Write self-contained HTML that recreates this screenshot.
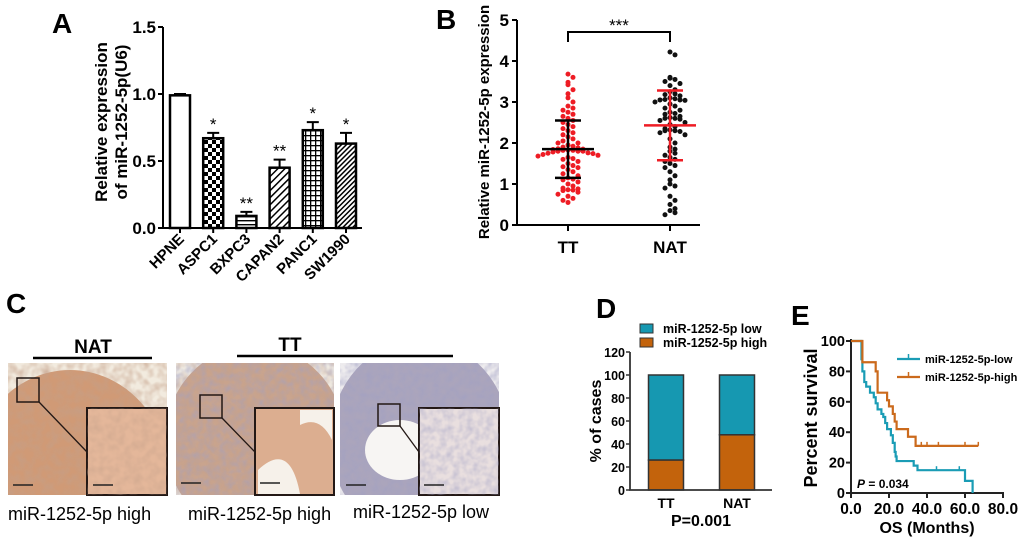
<!DOCTYPE html>
<html><head><meta charset="utf-8"><style>
html,body{margin:0;background:#fff;width:1020px;height:539px;overflow:hidden;}
svg{display:block;font-family:"Liberation Sans",Arial,sans-serif;}
.b{font-weight:bold;}
</style></head><body>
<svg id="fig" width="1020" height="539" viewBox="0 0 1020 539">
<defs>
<pattern id="pChk" width="8" height="8" patternUnits="userSpaceOnUse"><rect width="8" height="8" fill="#fff"/><rect width="4" height="4" fill="#000"/><rect x="4" y="4" width="4" height="4" fill="#000"/></pattern>
<pattern id="pHor" width="4" height="4" patternUnits="userSpaceOnUse"><rect width="4" height="4" fill="#fff"/><rect width="4" height="1.4" fill="#000"/></pattern>
<pattern id="pDiag" width="5" height="5" patternUnits="userSpaceOnUse" patternTransform="rotate(45)"><rect width="5" height="5" fill="#fff"/><rect width="1.5" height="5" fill="#000"/></pattern>
<pattern id="pGrid" width="5" height="5" patternUnits="userSpaceOnUse"><rect width="5" height="5" fill="#fff"/><rect width="5" height="1.3" fill="#000"/><rect width="1.3" height="5" fill="#000"/></pattern>
<pattern id="pDiag2" width="3.5" height="3.5" patternUnits="userSpaceOnUse" patternTransform="rotate(45)"><rect width="3.5" height="3.5" fill="#fff"/><rect width="1.5" height="3.5" fill="#000"/></pattern>
<filter id="tex" x="0" y="0" width="1" height="1"><feTurbulence type="fractalNoise" baseFrequency="0.12" numOctaves="2" seed="3"/><feColorMatrix type="matrix" values="0 0 0 0 0.55  0 0 0 0 0.35  0 0 0 0 0.25  0 0 0 1.6 -0.5"/><feComposite in2="SourceGraphic" operator="in"/></filter>
<filter id="texB" x="0" y="0" width="1" height="1"><feTurbulence type="fractalNoise" baseFrequency="0.15" numOctaves="2" seed="7"/><feColorMatrix type="matrix" values="0 0 0 0 0.35  0 0 0 0 0.35  0 0 0 0 0.55  0 0 0 1.6 -0.5"/><feComposite in2="SourceGraphic" operator="in"/></filter>
<clipPath id="c1"><rect x="8" y="363" width="159" height="132"/></clipPath>
<clipPath id="c2"><rect x="176" y="363" width="158" height="132"/></clipPath>
<clipPath id="c3"><rect x="340" y="363" width="159" height="132"/></clipPath>
</defs>

<text x="52" y="33" font-size="28" class="b">A</text>
<text x="436" y="29" font-size="28" class="b">B</text>
<text x="6" y="313" font-size="28" class="b">C</text>
<text x="596" y="318" font-size="28" class="b">D</text>
<text x="791" y="325" font-size="28" class="b">E</text>

<g id="panelA"></g>
<g id="panelB"></g>
<g id="panelC">
  <text x="93" y="353" font-size="19" class="b" text-anchor="middle">NAT</text>
  <line x1="33" y1="358" x2="152" y2="358" stroke="#000" stroke-width="2.5"/>
  <text x="290" y="351" font-size="19" class="b" text-anchor="middle">TT</text>
  <line x1="237" y1="356" x2="453" y2="356" stroke="#000" stroke-width="2.5"/>

  <g>
    <g clip-path="url(#c1)">
    <rect x="8" y="363" width="159" height="132" fill="#f2ebdf"/>
    <ellipse cx="70" cy="480" rx="100" ry="110" fill="#d09a76"/>
    <rect x="8" y="363" width="159" height="132" fill="#fff" filter="url(#tex)" opacity="0.7"/>
    </g>
    <rect x="87" y="408" width="80" height="87" fill="#e4b79a" stroke="#231815" stroke-width="2"/>
    <rect x="87" y="408" width="80" height="87" fill="#fff" filter="url(#tex)" opacity="0.5"/>
    <rect x="17" y="378" width="22" height="24" fill="none" stroke="#231815" stroke-width="1.5"/>
    <line x1="39" y1="402" x2="87" y2="452" stroke="#231815" stroke-width="1.3"/>
    <line x1="13" y1="485" x2="33" y2="485" stroke="#222" stroke-width="1.5"/>
    <line x1="93" y1="485" x2="113" y2="485" stroke="#222" stroke-width="1.5"/>
  </g>
  <g>
    <g clip-path="url(#c2)">
    <rect x="176" y="363" width="158" height="132" fill="#efeae2"/>
    <ellipse cx="255" cy="440" rx="90" ry="95" fill="#c9a48e"/>
    <rect x="176" y="363" width="158" height="132" fill="#fff" filter="url(#texB)" opacity="0.6"/>
    <rect x="176" y="363" width="158" height="132" fill="#fff" filter="url(#tex)" opacity="0.5"/>
    </g>
    <rect x="255" y="408" width="79" height="87" fill="#dcae90" stroke="#231815" stroke-width="2"/>
    <path d="M258 470 Q290 440 300 494 L258 494Z M300 425 Q320 415 332 440 L332 410 L300 410Z" fill="#f6f1ea"/>
    <rect x="200" y="395" width="22" height="23" fill="none" stroke="#231815" stroke-width="1.5"/>
    <line x1="222" y1="418" x2="255" y2="452" stroke="#231815" stroke-width="1.3"/>
    <line x1="181" y1="483" x2="201" y2="483" stroke="#222" stroke-width="1.5"/>
    <line x1="260" y1="483" x2="280" y2="483" stroke="#222" stroke-width="1.5"/>
  </g>
  <g>
    <g clip-path="url(#c3)">
    <rect x="340" y="363" width="159" height="132" fill="#eeecee"/>
    <ellipse cx="420" cy="440" rx="90" ry="100" fill="#aba5bc"/>
    <rect x="340" y="363" width="159" height="132" fill="#fff" filter="url(#texB)" opacity="0.6"/>
    <ellipse cx="400" cy="450" rx="35" ry="30" fill="#f7f5f3"/>
    </g>
    <rect x="419" y="408" width="80" height="87" fill="#e9dfdf" stroke="#231815" stroke-width="2"/>
    <rect x="419" y="408" width="80" height="87" fill="#fff" filter="url(#texB)" opacity="0.5"/>
    <rect x="378" y="404" width="22" height="22" fill="none" stroke="#231815" stroke-width="1.5"/>
    <line x1="400" y1="426" x2="419" y2="452" stroke="#231815" stroke-width="1.3"/>
    <line x1="346" y1="485" x2="366" y2="485" stroke="#222" stroke-width="1.5"/>
    <line x1="424" y1="485" x2="444" y2="485" stroke="#222" stroke-width="1.5"/>
  </g>
  <text x="8" y="520" font-size="18">miR-1252-5p high</text>
  <text x="188" y="520" font-size="18">miR-1252-5p high</text>
  <text x="353" y="518" font-size="18">miR-1252-5p low</text>
</g>
<g id="panelD"></g>
<g id="panelE"></g>
</svg>
<script>
// ---------- Panel A data ----------
const aCats=["HPNE","ASPC1","BXPC3","CAPAN2","PANC1","SW1990"];
const aVals=[0.99,0.67,0.09,0.45,0.73,0.63];
const aErr=[0.01,0.04,0.03,0.06,0.06,0.08];
const aStars=["","*","**","**","*","*"];
const aTicks=[0,0.5,1.0,1.5];
const aFills=["#fff","url(#pChk)","url(#pHor)","url(#pDiag)","url(#pGrid)","url(#pDiag2)"];
// ---------- Panel B data ----------
const bCats=["TT","NAT"];
const bTT=[3.68,3.6,3.48,3.42,3.3,3.2,3.1,3.0,2.9,2.85,2.8,2.75,2.7,2.65,2.6,2.55,2.5,2.45,2.4,2.35,2.3,2.25,2.2,2.15,2.1,2.05,2.0,2.0,1.95,1.92,1.9,1.88,1.86,1.85,1.84,1.83,1.82,1.82,1.8,1.8,1.8,1.78,1.76,1.75,1.74,1.72,1.7,1.68,1.65,1.62,1.6,1.55,1.5,1.45,1.42,1.4,1.35,1.3,1.25,1.2,1.15,1.12,1.1,1.05,1.0,0.95,0.9,0.88,0.86,0.85,0.84,0.8,0.75,0.7,0.65,0.6,0.55];
const bNAT=[4.22,4.15,3.6,3.58,3.55,3.5,3.45,3.4,3.3,3.25,3.2,3.18,3.15,3.1,3.08,3.06,3.05,3.05,3.04,3.0,2.95,2.9,2.85,2.8,2.75,2.72,2.7,2.65,2.62,2.6,2.6,2.58,2.55,2.5,2.45,2.4,2.35,2.32,2.3,2.3,2.28,2.25,2.2,2.1,2.0,1.9,1.85,1.8,1.75,1.7,1.65,1.6,1.55,1.5,1.45,1.4,1.3,1.2,1.1,1.0,0.95,0.9,0.7,0.6,0.5,0.4,0.35,0.3,0.25];
const bMean=[1.85,2.43];
const bSdHi=[2.55,3.28];
const bSdLo=[1.15,1.58];
const bTicks=[0,1,2,3,4,5];
// ---------- Panel D data ----------
const dCats=["TT","NAT"];
const dHigh=[26,48];
const dLow=[74,52];
const dTicks=[0,20,40,60,80,100,120];
// ---------- Panel E data ----------
const eLowT=[0,5.5,6,7,8,10,12,13,14,16,17,18,19,21,22,23,23.5,24,33,35,60,64];
const eLowS=[100,88,80,73,70,66,63,59,55,52,50,46,42,38,33,27,24,21,18,15,8,0];
const eLowCens=[45,57];
const eHighT=[0,6,13,14,19,20,22,23,24,30,34,67];
const eHighS=[100,86,80,66,61,57,52,47,42,37,31,31];
const eHighCens=[30,37,40,46,60,67];
const eYTicks=[0,20,40,60,80,100];
const eXTicks=[0,20,40,60,80];

const NS="http://www.w3.org/2000/svg";
function mk(parent,tag,attrs,txt){const e=document.createElementNS(NS,tag);for(const k in attrs)e.setAttribute(k,attrs[k]);if(txt!==undefined)e.textContent=txt;parent.appendChild(e);return e;}

// ===== Panel A =====
(function(){
const g=document.getElementById('panelA');
const x0=163,yTop=27,yBot=228,ymax=1.5;
const y=v=>yBot-(v/ymax)*(yBot-yTop);
const xc=i=>180+i*33.2;
let ax=mk(g,'path',{d:`M${x0} ${yTop}V${yBot}H${xc(5)+16}`,fill:'none',stroke:'#000','stroke-width':2});


aTicks.forEach(t=>{
 mk(g,'line',{x1:x0-5,x2:x0,y1:y(t),y2:y(t),stroke:'#000','stroke-width':2});
 const tl=mk(g,'text',{x:x0-7,y:y(t)+6,'font-size':17,'font-weight':'bold','text-anchor':'end'},t.toFixed(1));
 
 
});
aCats.forEach((c,i)=>{
 const cx=xc(i),w=20;
 const eb=mk(g,'path',{d:`M${cx} ${y(aVals[i])}V${y(aVals[i]+aErr[i])}M${cx-6} ${y(aVals[i]+aErr[i])}H${cx+6}`,stroke:'#000','stroke-width':2,fill:'none'});
 
 
 const r=mk(g,'rect',{x:cx-w/2,y:y(aVals[i]),width:w,height:yBot-y(aVals[i]),fill:aFills[i],stroke:'#000','stroke-width':2.5});
 
 
 mk(g,'line',{x1:cx,x2:cx,y1:yBot,y2:yBot+5,stroke:'#000','stroke-width':2});
 if(aStars[i]){const s=mk(g,'text',{x:cx,y:y(aVals[i]+aErr[i])-3,'font-size':17,'text-anchor':'middle'},aStars[i]);
  
  }
 const l=mk(g,'text',{x:0,y:0,'font-size':15,'font-weight':'bold','text-anchor':'end',transform:`translate(${cx+5},${yBot+12}) rotate(-45)`},c);
 
 
});
const yl=mk(g,'text',{x:0,y:0,'font-size':17,'font-weight':'bold','text-anchor':'middle',transform:'translate(107,122) rotate(-90)'},'Relative expression');


const yl2=mk(g,'text',{x:0,y:0,'font-size':17,'font-weight':'bold','text-anchor':'middle',transform:'translate(127,122) rotate(-90)'},'of miR-1252-5p(U6)');


})();

// ===== Panel B =====
(function(){
const g=document.getElementById('panelB');
const x0=517,yTop=20,yBot=225,ymax=5;
const y=v=>yBot-(v/ymax)*(yBot-yTop);
const xc=i=>568+i*102;
const ax=mk(g,'path',{d:`M${x0} ${yTop}V${yBot}H700`,fill:'none',stroke:'#000','stroke-width':2});


bTicks.forEach(t=>{
 mk(g,'line',{x1:x0-5,x2:x0,y1:y(t),y2:y(t),stroke:'#000','stroke-width':2});
 const tl=mk(g,'text',{x:x0-8,y:y(t)+6,'font-size':17,'font-weight':'bold','text-anchor':'end'},t);
 
 
});
[bTT,bNAT].forEach((arr,i)=>{
 const cx=xc(i);
 mk(g,'line',{x1:cx,x2:cx,y1:yBot,y2:yBot+6,stroke:'#000','stroke-width':2});
 const tl=mk(g,'text',{x:cx,y:yBot+28,'font-size':17,'font-weight':'bold','text-anchor':'middle'},bCats[i]);
 
 
 const bins={};
 arr.forEach(v=>{
  const b=Math.round(v/0.16);bins[b]=(bins[b]||0);const k=bins[b]++;
  const off=(k%2?1:-1)*Math.ceil(k/2)*5;
  const d=mk(g,'circle',{cx:cx+off,cy:y(v),r:2.5,fill:i===0?'#ee1c24':'#111'});
  
  
 });
});
[0,1].forEach(i=>{
 const cx=xc(i),col=i===0?'#000':'#ee1c24';
 const s=mk(g,'path',{d:`M${cx} ${y(bSdLo[i])}V${y(bSdHi[i])}M${cx-13} ${y(bSdLo[i])}H${cx+13}M${cx-13} ${y(bSdHi[i])}H${cx+13}`,stroke:col,'stroke-width':2.5,fill:'none'});
 
 
 const m=mk(g,'line',{x1:cx-26,x2:cx+26,y1:y(bMean[i]),y2:y(bMean[i]),stroke:col,'stroke-width':2.5});
 
 
});
const br=mk(g,'path',{d:`M${xc(0)} 42V32H${xc(1)}V42`,fill:'none',stroke:'#000','stroke-width':2});


const st=mk(g,'text',{x:(xc(0)+xc(1))/2,y:31,'font-size':17,'text-anchor':'middle'},'***');


const yl=mk(g,'text',{x:0,y:0,'font-size':15,'font-weight':'bold','text-anchor':'middle',transform:'translate(489,122) rotate(-90)'},'Relative miR-1252-5p expression');


})();

// ===== Panel D =====
(function(){
const g=document.getElementById('panelD');
const x0=630,yTop=352,yBot=490,ymax=120;
const y=v=>yBot-(v/ymax)*(yBot-yTop);
const xc=i=>666+i*71;
dCats.forEach((c,i)=>{
 const cx=xc(i),w=35;
 const lo=mk(g,'rect',{x:cx-w/2,y:y(dHigh[i]+dLow[i]),width:w,height:y(dHigh[i])-y(dHigh[i]+dLow[i]),fill:'#1698b1',stroke:'#333','stroke-width':1.5});
 
 
 const hi=mk(g,'rect',{x:cx-w/2,y:y(dHigh[i]),width:w,height:yBot-y(dHigh[i]),fill:'#c3630c',stroke:'#333','stroke-width':1.5});
 
 
 const tl=mk(g,'text',{x:cx,y:yBot+18,'font-size':14,'font-weight':'bold','text-anchor':'middle'},c);
 
 
});
const ax=mk(g,'path',{d:`M${x0} ${yTop}V${yBot}H772`,fill:'none',stroke:'#333','stroke-width':1.8});


dTicks.forEach(t=>{
 mk(g,'line',{x1:x0-4,x2:x0,y1:y(t),y2:y(t),stroke:'#333','stroke-width':1.5});
 const tl=mk(g,'text',{x:x0-5,y:y(t)+5,'font-size':12.5,'font-weight':'bold','text-anchor':'end'},t);
 
 
});
const yl=mk(g,'text',{x:0,y:0,'font-size':16,'font-weight':'bold','text-anchor':'middle',transform:'translate(601,421) rotate(-90)'},'% of cases');


[['#1698b1','miR-1252-5p low',324],['#c3630c','miR-1252-5p high',338]].forEach(([col,t,yy])=>{
 const sw=mk(g,'rect',{x:640,y:yy,width:13,height:9,fill:col,stroke:'#333','stroke-width':1});
 
 
 const lt=mk(g,'text',{x:663,y:yy+9,'font-size':12.5,'font-weight':'bold'},t);
 
 
});
const p=mk(g,'text',{x:701,y:526,'font-size':16,'font-weight':'bold','text-anchor':'middle'},'P=0.001');


})();

// ===== Panel E =====
(function(){
const g=document.getElementById('panelE');
const x0=851,yTop=341,yBot=493;
const x=t=>x0+t*(1003-851)/80;
const y=v=>yBot-v*(yBot-yTop)/100;
const ax=mk(g,'path',{d:`M${x0} ${yTop-2}V${yBot}H1004`,fill:'none',stroke:'#222','stroke-width':2});


eYTicks.forEach(t=>{
 mk(g,'line',{x1:x0-5,x2:x0,y1:y(t),y2:y(t),stroke:'#222','stroke-width':2});
 const tl=mk(g,'text',{x:x0-6,y:y(t)+5,'font-size':14.5,'font-weight':'bold','text-anchor':'end'},t);
 
 
});
eXTicks.forEach(t=>{
 mk(g,'line',{x1:x(t),x2:x(t),y1:yBot,y2:yBot+5,stroke:'#222','stroke-width':2});
 const tl=mk(g,'text',{x:x(t),y:yBot+21,'font-size':15.5,'font-weight':'bold','text-anchor':'middle'},t.toFixed(1));
 
 
});
function step(T,S){let d=`M${x(T[0])} ${y(S[0])}`;for(let i=1;i<T.length;i++){d+=`H${x(T[i])}V${y(S[i])}`;}return d;}
function survAt(T,S,t){let s=S[0];for(let i=0;i<T.length;i++){if(T[i]<=t)s=S[i];}return s;}
[[eLowT,eLowS,eLowCens,'#1a9cb5','e-line-low'],[eHighT,eHighS,eHighCens,'#cb6a1c','e-line-high']].forEach(([T,S,C,col,nm])=>{
 const l=mk(g,'path',{d:step(T,S),fill:'none',stroke:col,'stroke-width':2.2});
 
 
 C.forEach(t=>{const s=survAt(T,S,t);
  const c=mk(g,'line',{x1:x(t),x2:x(t),y1:y(s)-4,y2:y(s),stroke:col,'stroke-width':1.5});
  
  });
});
[['#1a9cb5','miR-1252-5p-low',359],['#cb6a1c','miR-1252-5p-high',377]].forEach(([col,t,yy])=>{
 mk(g,'line',{x1:897,x2:920,y1:yy,y2:yy,stroke:col,'stroke-width':2.2});
 mk(g,'line',{x1:908.5,x2:908.5,y1:yy-5,y2:yy,stroke:col,'stroke-width':1.5});
 const lt=mk(g,'text',{x:925,y:yy+4,'font-size':11,'font-weight':'bold'},t);
 
 
});
const p=mk(g,'text',{x:857,y:488,'font-size':12,'font-weight':'bold'},'');
mk(p,'tspan',{'font-style':'italic'},'P');
mk(p,'tspan',{},' = 0.034');


const yl=mk(g,'text',{x:0,y:0,'font-size':18,'font-weight':'bold','text-anchor':'middle',transform:'translate(817,418) rotate(-90)'},'Percent survival');


const xl=mk(g,'text',{x:927,y:533,'font-size':16,'font-weight':'bold','text-anchor':'middle'},'OS (Months)');


})();
</script>
</body></html>
